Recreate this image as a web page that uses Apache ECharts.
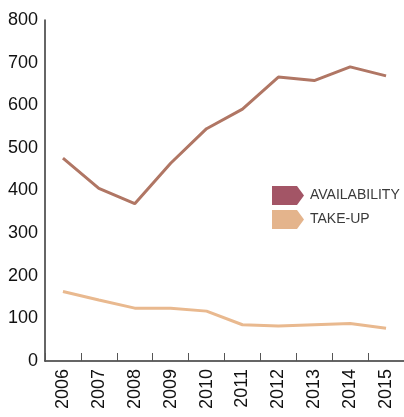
<!DOCTYPE html>
<html>
<head>
<meta charset="utf-8">
<script src="https://cdn.jsdelivr.net/npm/echarts@6/dist/echarts.min.js"></script>
<style>
  html, body { margin: 0; padding: 0; background: #fff; }
  #chart { width: 404px; height: 417px; }
</style>
</head>
<body>
<div id="chart"></div>
<script>
// Yearly figures, 2006–2015
var years = ['2006', '2007', '2008', '2009', '2010', '2011', '2012', '2013', '2014', '2015'];
var availability = [476, 405, 369, 464, 545, 591, 666, 658, 690, 669];
var takeUp = [163, 143, 124, 124, 117, 85, 82, 85, 88, 77];
var yTicks = [0, 100, 200, 300, 400, 500, 600, 700, 800];

var arrowIcon = 'path://M0,0 L25,0 L32,9.5 L25,19 L0,19 Z';
var font = 'Liberation Sans, Arial, sans-serif';

var chart = echarts.init(document.getElementById('chart'), null, { renderer: 'canvas' });
chart.setOption({
  animation: false,
  backgroundColor: '#ffffff',
  grid: { left: 45, top: 20, width: 360, bottom: 56, containLabel: false },
  legend: {
    orient: 'vertical',
    left: 272,
    top: 186,
    padding: 0,
    icon: arrowIcon,
    itemWidth: 32,
    itemHeight: 19,
    itemGap: 5,
    textStyle: { fontFamily: font, fontSize: 14, color: '#3a3a3a', padding: [0, 0, 0, 1] },
    data: [
      { name: 'AVAILABILITY', itemStyle: { color: '#a35566' } },
      { name: 'TAKE-UP', itemStyle: { color: '#e4b48c' } }
    ]
  },
  xAxis: {
    type: 'category',
    data: years,
    boundaryGap: true,
    axisLine: { lineStyle: { color: '#333', width: 1.5 } },
    axisTick: { show: true, inside: true, length: 8, lineStyle: { color: '#555', width: 1 } },
    axisLabel: { rotate: 90, margin: 8, fontFamily: font, fontSize: 18, color: '#111' },
    splitLine: { show: false }
  },
  yAxis: {
    type: 'value',
    min: yTicks[0],
    max: yTicks[yTicks.length - 1],
    interval: yTicks[1] - yTicks[0],
    axisLine: { show: true, lineStyle: { color: '#333', width: 1.5 } },
    axisTick: { show: false },
    axisLabel: { margin: 7, fontFamily: font, fontSize: 18, color: '#111' },
    splitLine: { show: false }
  },
  series: [
    {
      name: 'AVAILABILITY',
      type: 'line',
      data: availability,
      symbol: 'none',
      lineStyle: { color: '#b07664', width: 3 },
      itemStyle: { color: '#a35566' }
    },
    {
      name: 'TAKE-UP',
      type: 'line',
      data: takeUp,
      symbol: 'none',
      lineStyle: { color: '#e9b98f', width: 3 },
      itemStyle: { color: '#e4b48c' }
    }
  ]
});
</script>
</body>
</html>
